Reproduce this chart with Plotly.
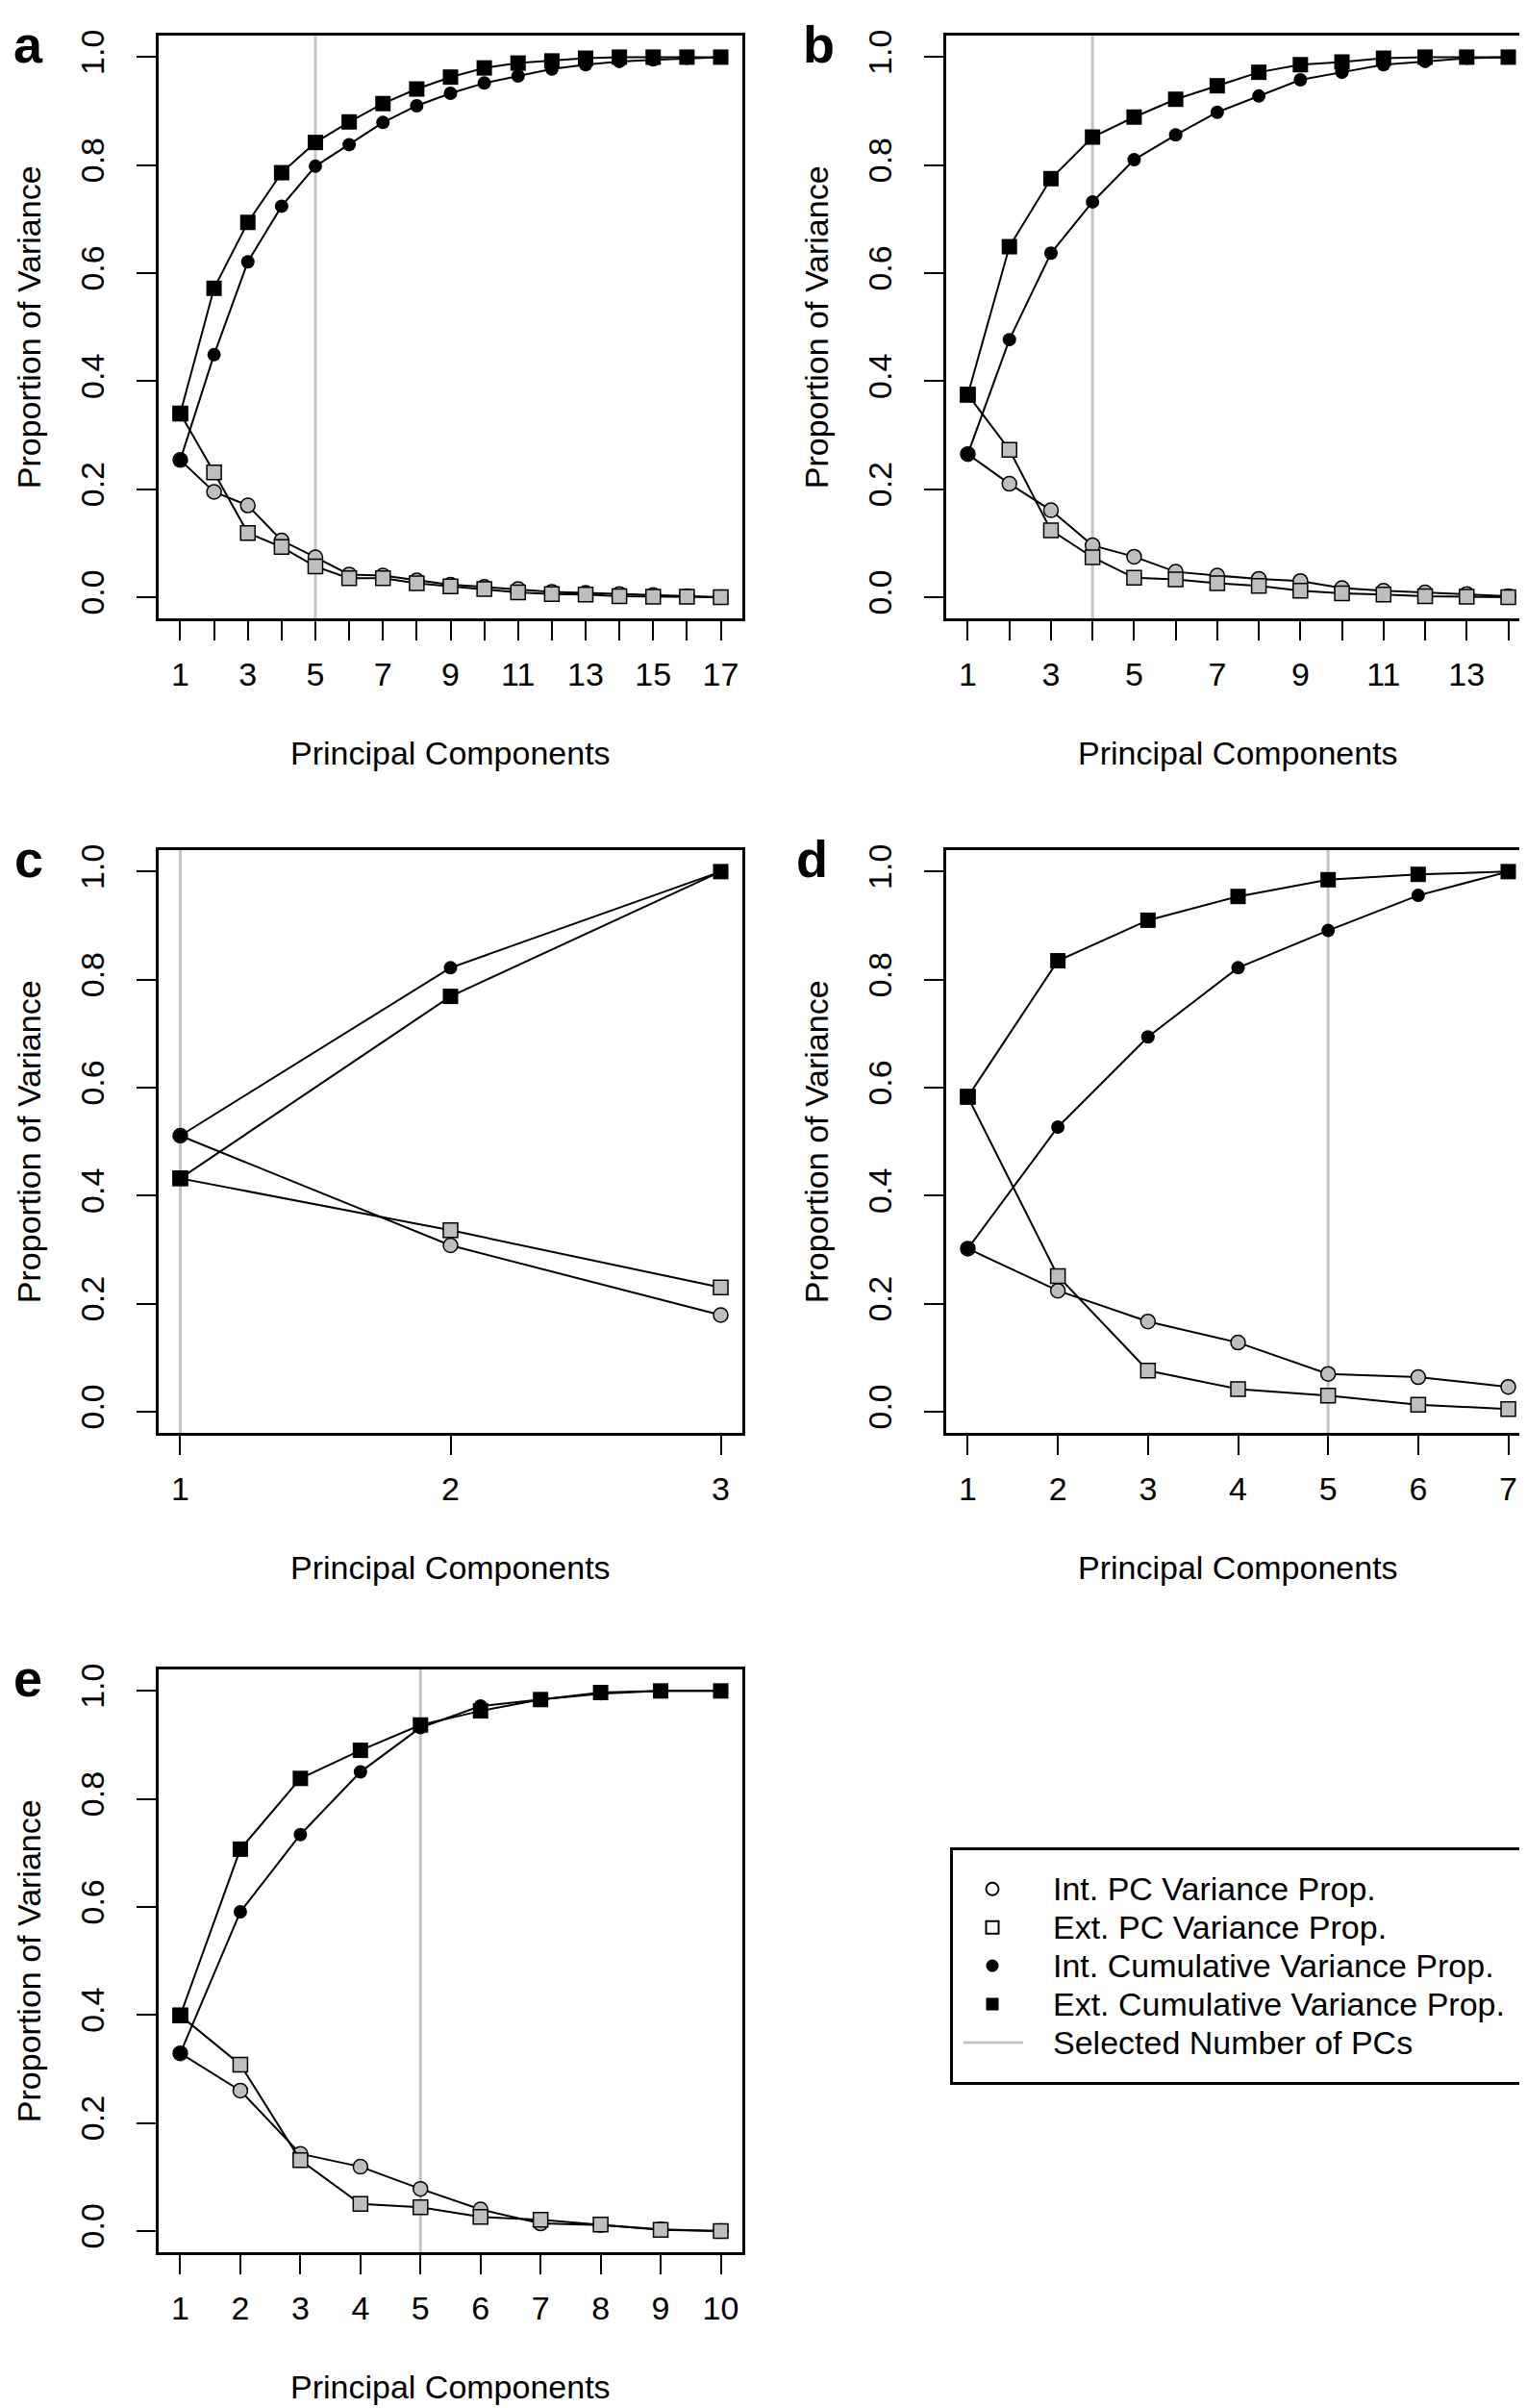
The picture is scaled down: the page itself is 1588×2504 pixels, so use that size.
import plotly.graph_objects as go

W, H = 1588, 2504
FONT = "Liberation Sans, Arial, Helvetica, sans-serif"

# ---------------- data ----------------
a_int_prop = [0.254, 0.195, 0.170, 0.105, 0.074, 0.042, 0.040, 0.031, 0.023, 0.019, 0.015, 0.010, 0.008, 0.006, 0.004, 0.002, 0.000]
a_ext_prop = [0.340, 0.231, 0.119, 0.093, 0.057, 0.035, 0.035, 0.026, 0.020, 0.015, 0.009, 0.006, 0.005, 0.002, 0.001, 0.001, 0.000]
a_int_cum = [0.254, 0.449, 0.621, 0.724, 0.798, 0.838, 0.879, 0.910, 0.933, 0.952, 0.965, 0.978, 0.986, 0.992, 0.995, 0.998, 1.000]
a_ext_cum = [0.340, 0.572, 0.694, 0.786, 0.842, 0.880, 0.914, 0.941, 0.963, 0.980, 0.989, 0.993, 0.998, 1.000, 1.000, 1.000, 1.000]
a_selected = 5

b_int_prop = [0.265, 0.210, 0.161, 0.096, 0.075, 0.047, 0.040, 0.034, 0.030, 0.017, 0.012, 0.009, 0.006, 0.002]
b_ext_prop = [0.375, 0.273, 0.124, 0.074, 0.036, 0.033, 0.026, 0.021, 0.012, 0.007, 0.005, 0.002, 0.001, 0.000]
b_int_cum = [0.265, 0.477, 0.637, 0.732, 0.810, 0.856, 0.898, 0.928, 0.958, 0.972, 0.986, 0.992, 0.998, 1.000]
b_ext_cum = [0.375, 0.649, 0.775, 0.852, 0.889, 0.922, 0.947, 0.972, 0.986, 0.991, 0.998, 1.000, 1.000, 1.000]
b_selected = 4

c_int_prop = [0.511, 0.308, 0.179]
c_ext_prop = [0.432, 0.336, 0.230]
c_int_cum = [0.511, 0.822, 1.000]
c_ext_cum = [0.432, 0.769, 1.000]
c_selected = 1

d_int_prop = [0.302, 0.224, 0.167, 0.128, 0.070, 0.064, 0.046]
d_ext_prop = [0.583, 0.251, 0.076, 0.042, 0.030, 0.013, 0.005]
d_int_cum = [0.302, 0.527, 0.694, 0.822, 0.891, 0.956, 1.000]
d_ext_cum = [0.583, 0.835, 0.910, 0.954, 0.985, 0.995, 1.000]
d_selected = 5

e_int_prop = [0.329, 0.260, 0.143, 0.119, 0.078, 0.040, 0.014, 0.011, 0.003, 0.000]
e_ext_prop = [0.399, 0.308, 0.131, 0.050, 0.044, 0.026, 0.021, 0.012, 0.002, 0.000]
e_int_cum = [0.329, 0.591, 0.734, 0.850, 0.932, 0.972, 0.984, 0.995, 1.000, 1.000]
e_ext_cum = [0.399, 0.707, 0.838, 0.890, 0.937, 0.963, 0.984, 0.997, 1.000, 1.000]
e_selected = 5

panel_letters = ["a", "b", "c", "d", "e"]
y_tick_values = [0.0, 0.2, 0.4, 0.6, 0.8, 1.0]
y_tick_labels = ["0.0", "0.2", "0.4", "0.6", "0.8", "1.0"]
legend_labels = ["Int. PC Variance Prop.", "Ext. PC Variance Prop.",
                 "Int. Cumulative Variance Prop.", "Ext. Cumulative Variance Prop.",
                 "Selected Number of PCs"]
x_title = "Principal Components"
y_title = "Proportion of Variance"

panels = [
    dict(int_prop=a_int_prop, ext_prop=a_ext_prop, int_cum=a_int_cum, ext_cum=a_ext_cum, sel=a_selected, label_step=2),
    dict(int_prop=b_int_prop, ext_prop=b_ext_prop, int_cum=b_int_cum, ext_cum=b_ext_cum, sel=b_selected, label_step=2),
    dict(int_prop=c_int_prop, ext_prop=c_ext_prop, int_cum=c_int_cum, ext_cum=c_ext_cum, sel=c_selected, label_step=1),
    dict(int_prop=d_int_prop, ext_prop=d_ext_prop, int_cum=d_int_cum, ext_cum=d_ext_cum, sel=d_selected, label_step=1),
    dict(int_prop=e_int_prop, ext_prop=e_ext_prop, int_cum=e_int_cum, ext_cum=e_ext_cum, sel=e_selected, label_step=1),
]

# ---------------- layout geometry (pixels) ----------------
col_left = [157, 976]
box_w = 607
row_top = [23, 872, 1726]
box_h = 608
positions = [(0, 0), (1, 0), (0, 1), (1, 1), (0, 2)]
letter_x = [21, 843, 22, 836, 21]

GRAY = "#BEBEBE"
SELGRAY = "#C4C4C4"

fig = go.Figure()
layout = dict(
    width=W, height=H, margin=dict(l=0, r=0, t=0, b=0),
    paper_bgcolor="white", plot_bgcolor="white", showlegend=False,
    font=dict(family=FONT, size=34, color="black"),
)
annotations = []

for i, (p, (c, r)) in enumerate(zip(panels, positions)):
    k = i + 1
    xa = "x" if k == 1 else f"x{k}"
    ya = "y" if k == 1 else f"y{k}"
    n = len(p["int_prop"])
    pcs = list(range(1, n + 1))
    left = col_left[c]
    top = row_top[r]
    right = left + box_w
    bottom = top + box_h

    pad = 0.04 * (n - 1)
    ticktext = [str(v) if (v - 1) % p["label_step"] == 0 else "" for v in pcs]
    layout[f"xaxis{k if k > 1 else ''}"] = dict(
        domain=[left / W, right / W], anchor=ya, range=[1 - pad, n + pad],
        tickmode="array", tickvals=pcs, ticktext=ticktext,
        ticks="outside", ticklen=20, tickwidth=2, tickcolor="black",
        showline=True, linecolor="black", linewidth=3, mirror=True,
        showgrid=False, zeroline=False, ticklabelstandoff=6,
        tickfont=dict(family=FONT, size=34, color="black"), fixedrange=True,
    )
    layout[f"yaxis{k if k > 1 else ''}"] = dict(
        domain=[1 - bottom / H, 1 - top / H], anchor=xa, range=[-0.04, 1.04],
        tickmode="array", tickvals=y_tick_values, ticktext=y_tick_labels, tickangle=-90,
        ticks="outside", ticklen=20, tickwidth=2, tickcolor="black",
        showline=True, linecolor="black", linewidth=3, mirror=True,
        showgrid=False, zeroline=False, ticklabelstandoff=20,
        tickfont=dict(family=FONT, size=34, color="black"), fixedrange=True,
    )

    # selected number of PCs line
    fig.add_trace(go.Scatter(x=[p["sel"], p["sel"]], y=[-0.04, 1.04], mode="lines",
                             line=dict(color=SELGRAY, width=3), xaxis=xa, yaxis=ya,
                             hoverinfo="skip"))
    # PC proportions
    fig.add_trace(go.Scatter(x=pcs, y=p["int_prop"], mode="lines+markers", xaxis=xa, yaxis=ya,
                             line=dict(color="black", width=2), cliponaxis=False,
                             marker=dict(symbol="circle", size=15, color=GRAY,
                                         line=dict(color="black", width=1.5))))
    fig.add_trace(go.Scatter(x=pcs, y=p["ext_prop"], mode="lines+markers", xaxis=xa, yaxis=ya,
                             line=dict(color="black", width=2), cliponaxis=False,
                             marker=dict(symbol="square", size=15, color=GRAY,
                                         line=dict(color="black", width=1.5))))
    # cumulative
    fig.add_trace(go.Scatter(x=pcs, y=p["int_cum"], mode="lines+markers", xaxis=xa, yaxis=ya,
                             line=dict(color="black", width=2), cliponaxis=False,
                             marker=dict(symbol="circle", size=14, color="black",
                                         line=dict(color="black", width=0))))
    fig.add_trace(go.Scatter(x=pcs, y=p["ext_cum"], mode="lines+markers", xaxis=xa, yaxis=ya,
                             line=dict(color="black", width=2), cliponaxis=False,
                             marker=dict(symbol="square", size=16, color="black",
                                         line=dict(color="black", width=0))))

    # axis titles
    annotations.append(dict(text=y_title, xref="paper", yref="paper",
                            x=(left - 135) / W, y=1 - (top + box_h / 2) / H,
                            xanchor="center", yanchor="middle", textangle=-90,
                            showarrow=False, font=dict(family=FONT, size=34, color="black")))
    annotations.append(dict(text=x_title, xref="paper", yref="paper",
                            x=(left + box_w / 2) / W, y=1 - (bottom + 140) / H,
                            xanchor="center", yanchor="middle",
                            showarrow=False, font=dict(family=FONT, size=34, color="black")))
    # panel letter
    annotations.append(dict(text=f"<b>{panel_letters[i]}</b>", xref="paper", yref="paper",
                            x=letter_x[i] / W, y=1 - (top - 23) / H,
                            xanchor="center", yanchor="top",
                            showarrow=False, font=dict(family=FONT, size=54, color="black")))

# ---------------- legend box (drawn on its own axes) ----------------
lg_left, lg_right, lg_top, lg_bottom = 983, 1576, 1915, 2156
layout["xaxis6"] = dict(domain=[lg_left / W, lg_right / W], anchor="y6", range=[0, lg_right - lg_left],
                        showline=True, linecolor="black", linewidth=3, mirror=True,
                        showgrid=False, zeroline=False, showticklabels=False, ticks="", fixedrange=True)
layout["yaxis6"] = dict(domain=[1 - lg_bottom / H, 1 - lg_top / H], anchor="x6",
                        range=[lg_bottom - lg_top, 0],
                        showline=True, linecolor="black", linewidth=3, mirror=True,
                        showgrid=False, zeroline=False, showticklabels=False, ticks="", fixedrange=True)
rows_y = [40, 80, 120, 160, 200]
sym_x = 41
sym_specs = [
    dict(symbol="circle-open", size=13, color="black", line=dict(width=2, color="black")),
    dict(symbol="square-open", size=13, color="black", line=dict(width=2, color="black")),
    dict(symbol="circle", size=13, color="black"),
    dict(symbol="square", size=13, color="black"),
]
for spec, yy in zip(sym_specs, rows_y[:4]):
    fig.add_trace(go.Scatter(x=[sym_x], y=[yy], mode="markers", marker=spec,
                             xaxis="x6", yaxis="y6", hoverinfo="skip"))
fig.add_trace(go.Scatter(x=[11, 73], y=[rows_y[4], rows_y[4]], mode="lines",
                         line=dict(color=SELGRAY, width=3), xaxis="x6", yaxis="y6", hoverinfo="skip"))
for lab, yy in zip(legend_labels, rows_y):
    annotations.append(dict(text=lab, xref="x6", yref="y6", x=102, y=yy,
                            xanchor="left", yanchor="middle", showarrow=False,
                            font=dict(family=FONT, size=34, color="black")))

layout["annotations"] = annotations
fig.update_layout(**layout)
fig.write_html("out.html")
